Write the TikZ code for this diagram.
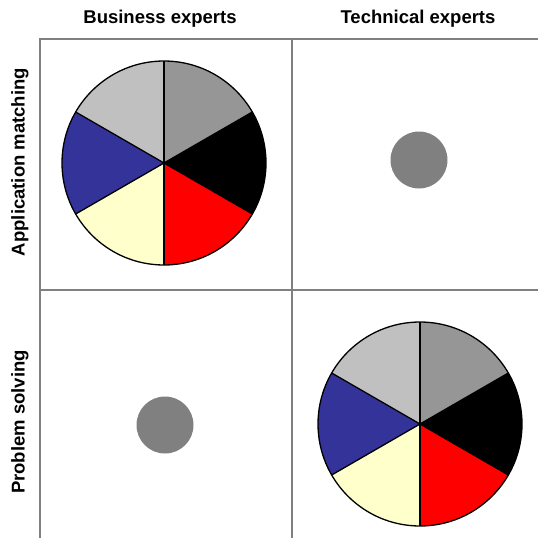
\documentclass[tikz,border=0pt]{standalone}
\usepackage{fontspec}
\setmainfont{Liberation Sans}
\definecolor{sliceA}{HTML}{969696}
\definecolor{sliceB}{HTML}{000000}
\definecolor{sliceC}{HTML}{FF0000}
\definecolor{sliceD}{HTML}{FFFFCC}
\definecolor{sliceE}{HTML}{333399}
\definecolor{sliceF}{HTML}{C0C0C0}
\definecolor{gridgray}{HTML}{808080}
\begin{document}
\begin{tikzpicture}[x=1pt,y=-1pt,
  gridline/.style={draw=gridgray,line width=1.8pt},
  header/.style={font=\fontsize{18.5}{20}\selectfont\bfseries,inner sep=0pt},
  dot/.style={fill=gridgray,draw=none},
  slice/.style={draw=black,line width=1.3pt,line join=round}]
\useasboundingbox (0,0) rectangle (538,538);
% grid
\draw[gridline] (40,538) -- (40,39) -- (538,39);
\draw[gridline] (292,39) -- (292,538);
\draw[gridline] (40,290) -- (538,290);
% headers
\node[header] (h1) at (160,19) {Business experts};
\node[header] (h2) at (418,19) {Technical experts};
\node[header,rotate=90] (r1) at (20,162) {Application matching};
\node[header,rotate=90] (r2) at (20,422) {Problem solving};
% pies
\foreach \cx/\cy in {164/163, 420/424}{
  \begin{scope}[shift={(\cx,\cy)},y=1pt]
  \foreach \a/\b/\c in {30/90/sliceA, -30/30/sliceB, -90/-30/sliceC, -150/-90/sliceD, 150/210/sliceE, 90/150/sliceF}{
    \fill[\c] (0,0) -- (\a:102) arc[start angle=\a,end angle=\b,radius=102] -- cycle;
  }
  \foreach \a in {90,30,-30,-90,-150,150}{
    \draw[slice] (0,0) -- (\a:102);
  }
  \draw[slice] (0,0) circle[radius=102];
  \end{scope}
}
% dots
\fill[dot] (419,160) circle[radius=28.5];
\fill[dot] (165,425) circle[radius=28.5];
\end{tikzpicture}
\end{document}
